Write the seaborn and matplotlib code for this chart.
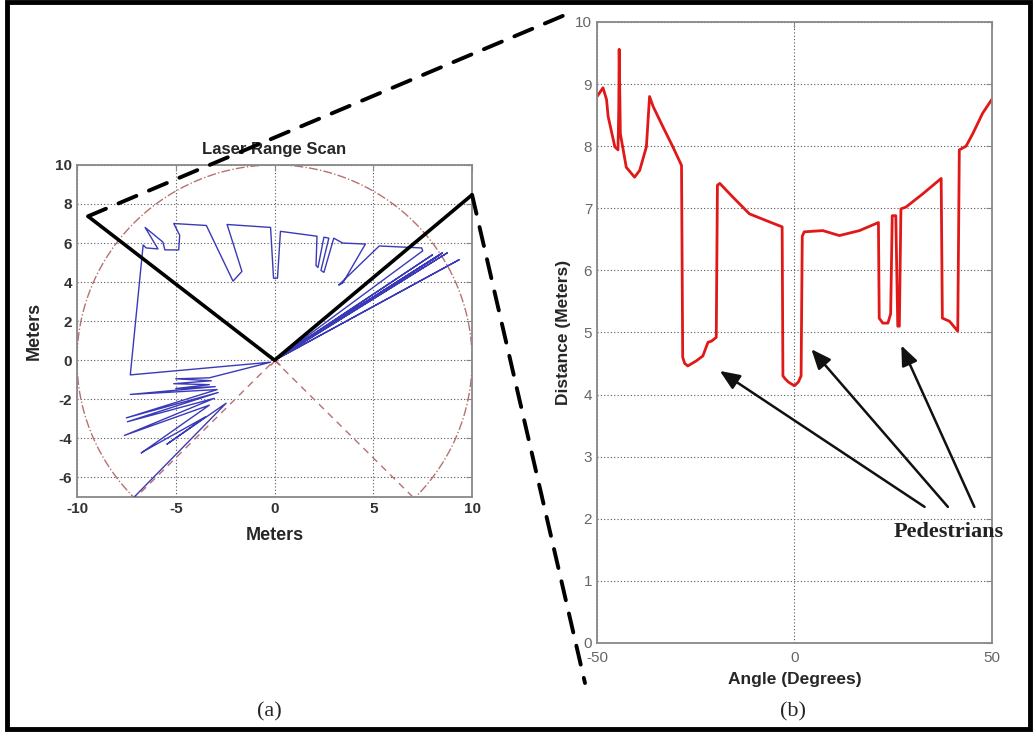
import numpy as np
import pandas as pd
import matplotlib
matplotlib.use("Agg")
import matplotlib.pyplot as plt
import seaborn as sns
from matplotlib.patches import ConnectionPatch, Rectangle

# laser scan polyline (meters), in scan order
scan_x = [0.0, 9.35, 0.1, 8.75, 0.15, 8.5, 0.2, 8.3, 0.3, 8.0, 0.4, 7.5, 7.45,
          5.3, 3.25, 3.45, 4.6, 3.45, 3.0, 2.5, 2.35, 2.75, 2.5, 2.2, 2.1, 2.15,
          0.3, 0.15, -0.05, -0.2, -2.4, -1.65, -2.1, -3.45, -5.1, -4.8, -4.85,
          -5.55, -5.65, -6.55, -5.9, -6.5, -6.65, -7.3, -0.2,
          -3.3, -5.0, -3.2, -5.1, -3.3, -5.0, -3.0, -7.3, -2.9, -7.5, -2.85,
          -7.45, -3.05, -7.6, -3.3, -6.75, -6.6, -3.5, -5.45, -2.45, -7.1]
scan_y = [0.0, 5.15, 0.05, 5.5, 0.1, 5.5, 0.15, 5.35, 0.2, 5.4, 0.3, 5.6, 5.75,
          5.85, 3.85, 3.95, 5.95, 6.0, 6.25, 4.5, 4.6, 6.25, 6.3, 4.75, 4.85, 6.35,
          6.6, 4.2, 4.2, 6.8, 6.95, 4.55, 4.05, 6.9, 7.0, 6.4, 5.65,
          5.65, 6.05, 6.8, 5.7, 5.75, 5.9, -0.75, -0.1,
          -0.9, -0.95, -1.05, -1.2, -1.25, -1.45, -1.35, -1.75, -1.5, -2.95, -1.65,
          -3.15, -1.95, -3.85, -2.3, -4.75, -4.65, -2.9, -4.3, -2.2, -7.0]

# field of view edges of the selected window
fov_x = [-9.44, 0.0, 10.0]
fov_y = [7.37, 0.0, 8.47]

# range profile (b)
angle = [-50, -48.5, -47.6, -47.2, -45.5, -44.7, -44.5, -44.4, -44.1, -42.6,
         -40.5, -39.2, -37.5, -36.7, -35.8, -33.3, -30.8, -28.6, -28.3, -27.8,
         -27.0, -24.9, -23.2, -21.9, -21.0, -19.8, -19.5, -18.9, -15.6, -11.4,
         -7.1, -3.1, -2.9, -2.3, -1.5, 0.0, 1.0, 1.7, 2.0, 2.5, 7.2, 11.4,
         16.5, 21.3, 21.5, 22.4, 23.7, 24.4, 24.8, 25.7, 26.2, 26.6, 27.0,
         28.3, 32.5, 37.2, 37.5, 39.3, 41.4, 41.8, 43.5, 45.2, 47.7, 50]
distance = [8.8, 8.94, 8.75, 8.48, 7.99, 7.94, 8.6, 9.56, 8.2, 7.66,
            7.5, 7.61, 7.99, 8.8, 8.64, 8.31, 7.99, 7.69, 4.6, 4.5,
            4.46, 4.54, 4.62, 4.84, 4.86, 4.92, 7.37, 7.4, 7.18, 6.91,
            6.8, 6.7, 4.3, 4.25, 4.2, 4.14, 4.2, 4.3, 6.55, 6.62, 6.64, 6.56,
            6.64, 6.77, 5.23, 5.15, 5.15, 5.3, 6.88, 6.88, 5.1, 5.1, 6.99,
            7.02, 7.23, 7.48, 5.23, 5.18, 5.02, 7.94, 8.0, 8.2, 8.53, 8.75]

# pedestrian arrows: tails near the label, heads at the dips
arrow_tail_x = [33.0, 38.9, 45.6]
arrow_tail_y = [2.19, 2.19, 2.19]
arrow_head_x = [-18.9, 4.3, 27.1]
arrow_head_y = [4.38, 4.73, 4.79]

scan = pd.DataFrame({"x": scan_x, "y": scan_y})
profile = pd.DataFrame({"angle": angle, "distance": distance})

sns.set_style("white")
plt.rcParams["font.family"] = ["Liberation Sans", "DejaVu Sans"]
plt.rcParams["axes.unicode_minus"] = False

fig = plt.figure(figsize=(10.33, 7.33), dpi=100)
ax1 = fig.add_axes([0.0745, 0.322, 0.3825, 0.453])
ax2 = fig.add_axes([0.578, 0.123, 0.382, 0.847])

grid_kw = dict(color="#555555", linestyle=(0, (1, 2)), linewidth=0.8)
for ax in (ax1, ax2):
    for s in ax.spines.values():
        s.set_color("#888888")
        s.set_linewidth(1.3)
    ax.tick_params(direction="in", length=4, color="#888888", top=True, right=True)

# ---- (a) laser range scan ----
t = np.linspace(0, 2 * np.pi, 400)
ax1.plot(10 * np.cos(t), 10 * np.sin(t), color="#b87070", lw=1, linestyle="-.", zorder=1)
ax1.plot([-7.2, 0, 7.2], [-7.2, 0, -7.2], color="#b87070", lw=1, linestyle=(0, (5, 4)), zorder=1)
sns.lineplot(data=scan, x="x", y="y", sort=False, estimator=None, ax=ax1,
             color="#3a3ab8", lw=1.0, zorder=3)
ax1.plot([0], [0], marker="x", color="#c06060", ms=7, zorder=4)
ax1.plot(fov_x, fov_y, color="black", lw=2.6, zorder=5, clip_on=False,
         solid_capstyle="butt")
ax1.set_xlim(-10, 10)
ax1.set_ylim(-7, 10)
ax1.set_xticks([-10, -5, 0, 5, 10])
ax1.set_yticks([-6, -4, -2, 0, 2, 4, 6, 8, 10])
ax1.grid(True, **grid_kw)
for lab in ax1.get_xticklabels() + ax1.get_yticklabels():
    lab.set_fontweight("bold")
    lab.set_fontsize(11)
    lab.set_color("#333333")
ax1.set_xlabel("Meters", fontsize=13, fontweight="bold", labelpad=8)
ax1.set_ylabel("Meters", fontsize=13, fontweight="bold", labelpad=9)
ax1.set_title("Laser Range Scan", fontsize=12, fontweight="bold", pad=8)

# ---- (b) range profile ----
sns.lineplot(data=profile, x="angle", y="distance", sort=False, estimator=None,
             ax=ax2, color="#e01818", lw=2.0)
ax2.set_xlim(-50, 50)
ax2.set_ylim(0, 10)
ax2.set_xticks([-50, 0, 50])
ax2.set_yticks(range(0, 11))
ax2.tick_params(axis="x", pad=6)
ax2.grid(True, **grid_kw)
for lab in ax2.get_xticklabels() + ax2.get_yticklabels():
    lab.set_fontsize(11)
    lab.set_color("#666666")
ax2.set_xlabel("Angle (Degrees)", fontsize=12.5, fontweight="bold", labelpad=5)
ax2.set_ylabel("Distance (Meters)", fontsize=12.5, fontweight="bold", labelpad=3)

for tx, ty, hx, hy in zip(arrow_tail_x, arrow_tail_y, arrow_head_x, arrow_head_y):
    ax2.annotate("", xy=(hx, hy), xytext=(tx, ty),
                 arrowprops=dict(arrowstyle="-|>,head_length=1.2,head_width=0.5",
                                 color="#111111", lw=1.8, shrinkA=0, shrinkB=0))
ax2.text(39.0, 1.78, "Pedestrians", fontsize=16, fontweight="bold",
         family=["Liberation Serif", "DejaVu Serif"], ha="center", va="center",
         color="#222222", clip_on=False)

# ---- zoom connectors across panels ----
dash = (0, (5, 3.5))
for (xa, ya), fb in zip([(fov_x[0], fov_y[0]), (fov_x[2], fov_y[2])],
                        [(0.5537, 0.9836), (0.5663, 0.0682)]):
    con = ConnectionPatch(xyA=(xa, ya), coordsA=ax1.transData,
                          xyB=fb, coordsB="figure fraction",
                          color="black", lw=2.8, linestyle=dash)
    fig.add_artist(con)

fig.text(0.261, 0.029, "(a)", fontsize=16, family=["Liberation Serif", "DejaVu Serif"],
         ha="center", va="center")
fig.text(0.768, 0.029, "(b)", fontsize=16, family=["Liberation Serif", "DejaVu Serif"],
         ha="center", va="center")

fig.add_artist(Rectangle((0.0068, 0.005), 0.9905, 0.992, transform=fig.transFigure,
                         fill=False, edgecolor="black", lw=3.5))

fig.savefig("out.png", dpi=100)
